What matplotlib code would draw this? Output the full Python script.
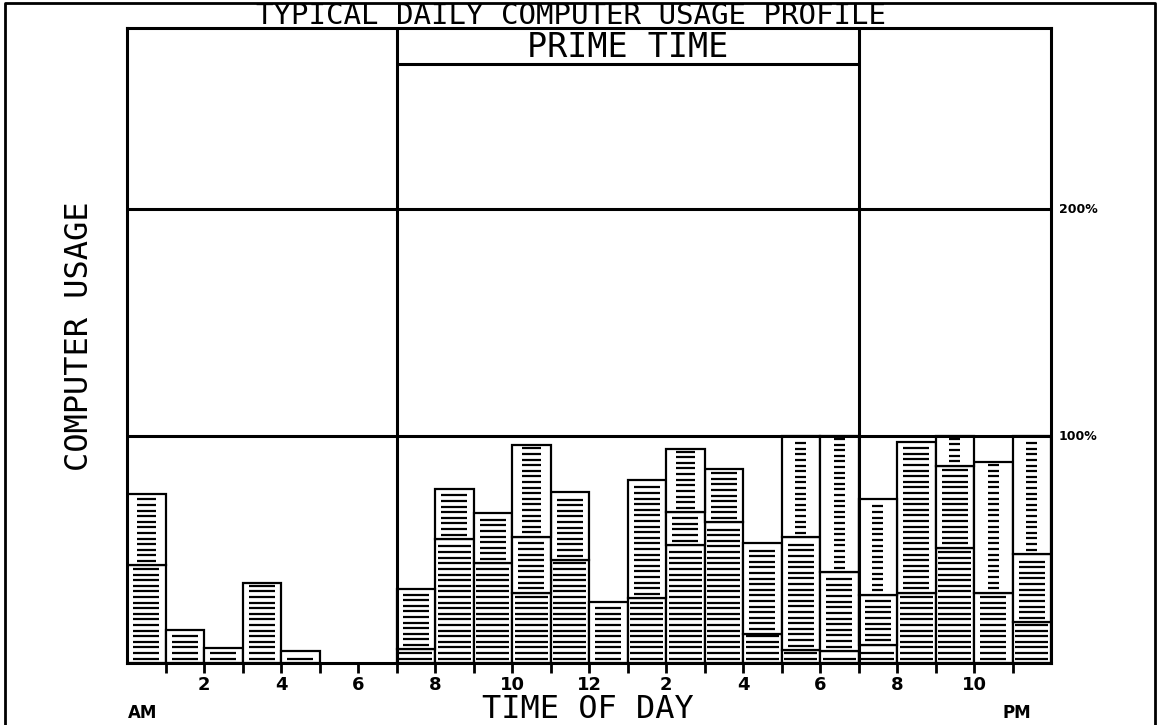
import numpy as np
import matplotlib.pyplot as plt
from matplotlib.lines import Line2D

hours = np.arange(24)

# usage per hour in percent of capacity, stacked in up to three layers
layer1 = [43, 14.5, 6.7, 35.4, 5.4, 0, 0, 6, 54.6, 43.9, 31, 45.4,
          27, 28.5, 52, 62, 13, 5.7, 5.3, 8, 31, 50.8, 31, 18]
layer2 = [31.4, 0, 0, 0, 0, 0, 0, 26.5, 22.1, 22.3, 24.6, 30.1,
          0, 52.1, 14.5, 23.5, 40, 49.7, 34.7, 22, 66.5, 36.2, 57.7, 30]
layer3 = [0, 0, 0, 0, 0, 0, 0, 0, 0, 0, 40.4, 0,
          0, 0, 27.8, 0, 0, 44.6, 60, 42.5, 0, 13, 0, 52]

# job class of each layer: B batch, W work, M mixed, N network
class1 = "WWWWW--BBBBBWBBBBBBBBBWB"
class2 = "M------WWWWW-WWWWWWWWWNW"
class3 = "----------M---M--NNN-N-N"

tick_labels = ['', '2', '', '4', '', '6', '', '8', '', '10', '', '12',
               '', '2', '', '4', '', '6', '', '8', '', '10', '']
prime_start, prime_end = 7, 19


def main():
    fig = plt.figure(figsize=(11.58, 7.25), dpi=100)
    ax = fig.add_axes([0.1097, 0.0855, 0.7979, 0.8759])
    ax.set_xlim(0, 24)
    ax.set_ylim(0, 280)

    # dash inset from the bar edge (in hours) for each job class
    inset = {'B': 0.07, 'W': 0.16, 'M': 0.26, 'N': 0.36}
    spacing = 2.47

    bottom = np.zeros(24)
    for heights, classes in [(layer1, class1), (layer2, class2), (layer3, class3)]:
        heights = np.array(heights, dtype=float)
        mask = heights > 0
        ax.bar(hours[mask] + 0.5, heights[mask], width=1, bottom=bottom[mask],
               facecolor='white', edgecolor='black', linewidth=1.6, zorder=2)
        for h in hours[mask]:
            b, t = bottom[h], bottom[h] + heights[h]
            ys = np.arange(b + spacing * 0.8, t - spacing * 0.45, spacing)
            d = inset[classes[h]]
            ax.hlines(ys, h + d, h + 1 - d, colors='black', linewidth=1.6, zorder=3)
        bottom += heights

    # capacity lines and prime time band
    for lvl in (100, 200):
        ax.axhline(lvl, color='black', linewidth=2.2, zorder=4)
    for xv in (prime_start, prime_end):
        ax.axvline(xv, color='black', linewidth=2.2, zorder=4)
    ax.hlines(264, prime_start, prime_end, colors='black', linewidth=2.2, zorder=4)
    ax.text((prime_start + prime_end) / 2, 271.5, 'PRIME TIME', ha='center', va='center',
            family='DejaVu Sans Mono', fontsize=24)

    for s in ax.spines.values():
        s.set_linewidth(2.2)

    ax.set_xticks(np.arange(1, 24))
    ax.set_xticklabels(tick_labels, fontsize=13, fontweight='bold')
    ax.tick_params(axis='x', direction='out', length=7, width=2, pad=2)
    ax.set_yticks([])

    for lvl in (100, 200):
        ax.text(24.2, lvl, '%d%%' % lvl, ha='left', va='center',
                fontsize=9, fontweight='bold')

    ax.text(0.001, -0.078, 'AM', transform=ax.transAxes, ha='left', va='center',
            fontsize=12, fontweight='bold')
    ax.text(0.948, -0.078, 'PM', transform=ax.transAxes, ha='left', va='center',
            fontsize=12, fontweight='bold')

    fig.text(588 / 1158, 1 - 710 / 725, 'TIME OF DAY', ha='center', va='center',
             family='DejaVu Sans Mono', fontsize=23)
    fig.text(80 / 1158, 1 - 336 / 725, 'COMPUTER USAGE', ha='center', va='center',
             rotation=90, family='DejaVu Sans Mono', fontsize=23)
    fig.text(571 / 1158, 1 - 24.5 / 725, 'TYPICAL DAILY COMPUTER USAGE PROFILE',
             ha='center', va='baseline', family='DejaVu Sans Mono', fontsize=21)

    # page frame
    fig.add_artist(Line2D([0.004, 0.004, 0.997, 0.997], [0.0, 0.996, 0.996, 0.0],
                          transform=fig.transFigure, color='black', linewidth=2))

    fig.savefig('out.png', dpi=100)


if __name__ == '__main__':
    main()
